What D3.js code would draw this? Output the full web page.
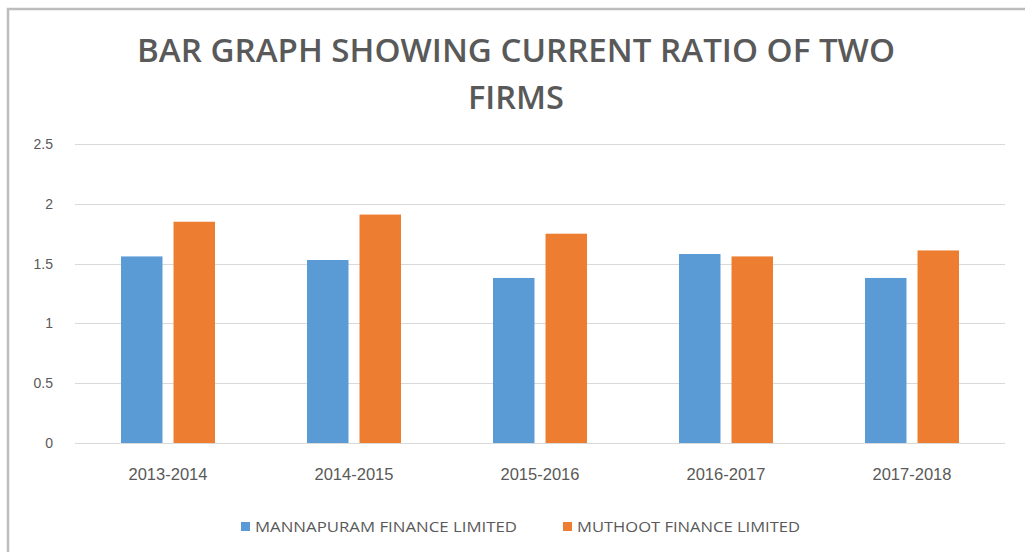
<!DOCTYPE html>
<html>
<head>
    <script src="https://d3js.org/d3.v7.min.js"></script>
    <style>
        body { margin: 0; background: #fff; }
    </style>
</head>
<body>
<script>
// current ratio per year
const years = ['2013-2014', '2014-2015', '2015-2016', '2016-2017', '2017-2018'];
const seriesNames = ['MANNAPURAM FINANCE LIMITED', 'MUTHOOT FINANCE LIMITED'];
const mannapuram = [1.56, 1.53, 1.38, 1.58, 1.38];
const muthoot = [1.85, 1.91, 1.75, 1.56, 1.61];
const yTicks = [0, 0.5, 1, 1.5, 2, 2.5];
const colors = ['#5B9BD5', '#ED7D31'];

const data = years.map((yr, i) => ({ year: yr, values: [mannapuram[i], muthoot[i]] }));

const width = 1025;
const height = 552;
const margin = { top: 144, right: 20, bottom: 109, left: 75 };

const svg = d3.select('body').append('svg')
    .attr('width', width)
    .attr('height', height);

// chart frame (only top and left edges show in the picture)
svg.append('path')
    .attr('d', `M8,${height} L8,9 L${width},9`)
    .attr('fill', 'none')
    .attr('stroke', '#bdbdbd')
    .attr('stroke-width', 2.5);

const title = svg.append('text')
    .attr('text-anchor', 'middle')
    .attr('fill', '#595959')
    .style('font-family', '"Open Sans", sans-serif')
    .style('font-weight', 600)
    .style('font-size', '33px');
title.append('tspan').attr('x', 516).attr('y', 62)
    .attr('textLength', 758).attr('lengthAdjust', 'spacingAndGlyphs')
    .text('BAR GRAPH SHOWING CURRENT RATIO OF TWO');
title.append('tspan').attr('x', 516).attr('y', 109)
    .attr('textLength', 96).attr('lengthAdjust', 'spacingAndGlyphs')
    .text('FIRMS');

const x0 = d3.scaleBand()
    .domain(years)
    .range([margin.left, 1005]);

const x1 = d3.scaleBand()
    .domain(d3.range(seriesNames.length))
    .range([x0.bandwidth() / 2 - 47, x0.bandwidth() / 2 + 47])
    .paddingInner(0.21);

const y = d3.scaleLinear()
    .domain([0, 2.5])
    .range([height - margin.bottom, margin.top]);

// gridlines
svg.append('g')
    .selectAll('line')
    .data(yTicks)
    .join('line')
    .attr('x1', margin.left)
    .attr('x2', 1005)
    .attr('y1', d => Math.round(y(d)) + 0.5)
    .attr('y2', d => Math.round(y(d)) + 0.5)
    .attr('stroke', '#d9d9d9')
    .attr('stroke-width', 1);

// y axis labels
const yAxis = svg.append('g')
    .attr('transform', `translate(${margin.left}, 0)`)
    .call(d3.axisLeft(y).tickValues(yTicks).tickSize(0).tickPadding(22).tickFormat(d3.format('')));
yAxis.select('.domain').remove();
yAxis.selectAll('text')
    .attr('fill', '#595959')
    .style('font-family', '"Liberation Sans", sans-serif')
    .style('font-size', '14px');

// bars
svg.append('g')
    .selectAll('g')
    .data(data)
    .join('g')
    .attr('transform', d => `translate(${x0(d.year)}, 0)`)
    .selectAll('rect')
    .data(d => d.values)
    .join('rect')
    .attr('x', (d, i) => x1(i))
    .attr('y', d => y(d))
    .attr('width', x1.bandwidth())
    .attr('height', d => y(0) - y(d))
    .attr('fill', (d, i) => colors[i]);

// x axis labels
const xAxis = svg.append('g')
    .attr('transform', `translate(0, ${height - margin.bottom})`)
    .call(d3.axisBottom(x0).tickSize(0).tickPadding(25));
xAxis.select('.domain').remove();
xAxis.selectAll('text')
    .attr('fill', '#595959')
    .attr('textLength', 79)
    .attr('lengthAdjust', 'spacingAndGlyphs')
    .style('font-family', '"Liberation Sans", sans-serif')
    .style('font-size', '17px');

// legend
const legendX = [241, 563];
const legendLen = [262, 223];
const legend = svg.append('g')
    .selectAll('g')
    .data(seriesNames)
    .join('g')
    .attr('transform', (d, i) => `translate(${legendX[i]}, 522)`);
legend.append('rect')
    .attr('width', 9)
    .attr('height', 9)
    .attr('fill', (d, i) => colors[i]);
legend.append('text')
    .attr('x', 14)
    .attr('y', 10)
    .attr('fill', '#595959')
    .attr('textLength', (d, i) => legendLen[i])
    .attr('lengthAdjust', 'spacingAndGlyphs')
    .style('font-family', '"Open Sans", sans-serif')
    .style('font-size', '14px')
    .text(d => d);
</script>
</body>
</html>
